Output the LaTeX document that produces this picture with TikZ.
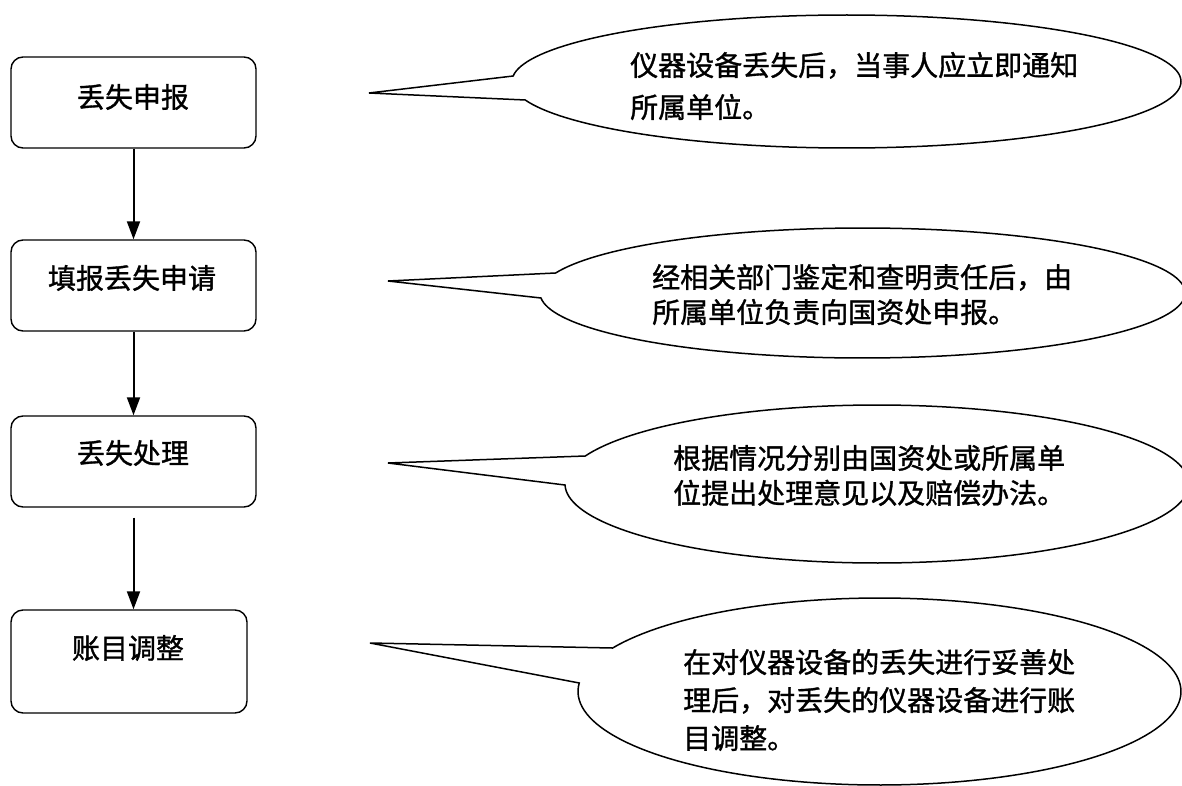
\documentclass[tikz,border=0pt]{standalone}
\usepackage{fontspec}
\newfontfamily\cjk[FakeBold=1.2]{Noto Sans CJK SC}
\usetikzlibrary{arrows.meta}
\begin{document}
\begin{tikzpicture}[x=1pt,y=-1pt,
  box/.style={draw, line width=1.4pt, rounded corners=12pt, minimum width=245pt, minimum height=91pt, inner sep=0pt},
  lbl/.style={font=\cjk\fontsize{28}{34}\selectfont, inner sep=0pt},
  arr/.style={line width=2pt, -{Triangle[length=18pt,width=13pt]}},
  callout/.style={draw, line width=1.5pt, line join=miter},
  ctext/.style={font=\cjk\fontsize{28}{#1}\selectfont, align=left, anchor=west, inner sep=0pt}]
\useasboundingbox (0,0) rectangle (1182,786);
\clip (0,0) rectangle (1182,786);

% flow boxes
\node[box] (b1) at (133.5,102.5) {};
\node[box] (b2) at (133.5,285.5) {};
\node[box] (b3) at (133.5,461.5) {};
\node[box, minimum width=236pt, minimum height=103pt] (b4) at (129,661.5) {};

\node[lbl] (t1) at (133,97) {丢失申报};
\node[lbl] (t2) at (132,278) {填报丢失申请};
\node[lbl] (t3) at (133,453) {丢失处理};
\node[lbl] (t4) at (128,648) {账目调整};

% arrows
\draw[arr] (b1.south) -- (b2.north);
\draw[arr] (b2.south) -- (b3.north);
\draw[arr] ([yshift=-10pt]b3.south) -- (b3.south |- b4.north);

% callout tips
\coordinate (tip1) at (369,93);
\coordinate (tip2) at (388,281);
\coordinate (tip3) at (388,463);
\coordinate (tip4) at (370,643);

% callouts
\draw[callout] plot[domain=-163.85:175.26, samples=160] ({846.5+334.5*cos(\x)},{81.5-66.5*sin(\x)}) -- (tip1) -- cycle;
\draw[callout] plot[domain=-175.59:162.08, samples=160] ({862.6+322.6*cos(\x)},{293-65*sin(\x)}) -- (tip2) -- cycle;
\draw[callout] plot[domain=-179.27:159.24, samples=160] ({877+312*cos(\x)},{484-79*sin(\x)}) -- (tip3) -- cycle;
\draw[callout] plot[domain=-185.22:152.28, samples=160] ({879.5+301.5*cos(\x)},{691.5-93.5*sin(\x)}) -- (tip4) -- cycle;

\node[ctext=42] (c1) at (630,86) {仪器设备丢失后，当事人应立即通知\\所属单位。};
\node[ctext=35] (c2) at (652,294.5) {经相关部门鉴定和查明责任后，由\\所属单位负责向国资处申报。};
\node[ctext=35] (c3) at (673,475.5) {根据情况分别由国资处或所属单\\位提出处理意见以及赔偿办法。};
\node[ctext=38] (c4) at (683,700) {在对仪器设备的丢失进行妥善处\\理后，对丢失的仪器设备进行账\\目调整。};
\end{tikzpicture}
\end{document}
